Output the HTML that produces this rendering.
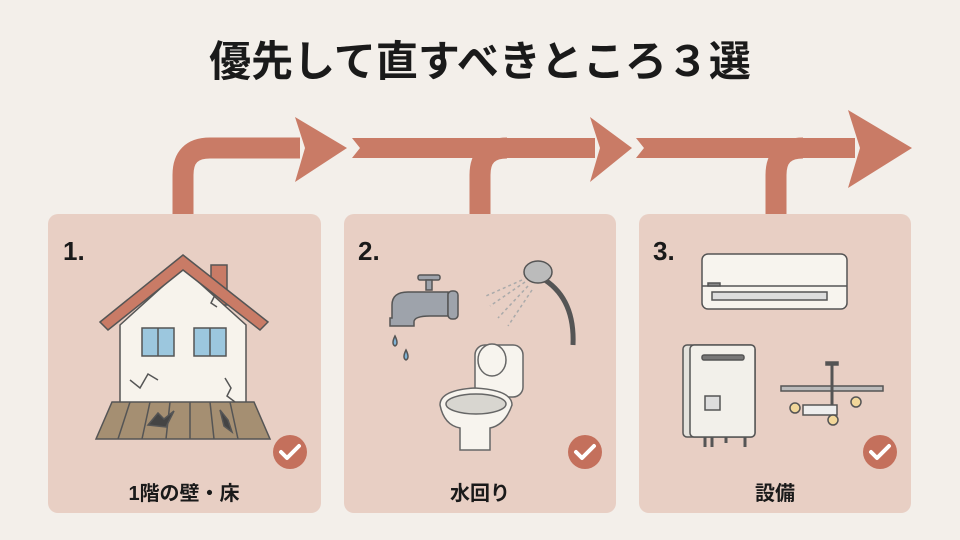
<!DOCTYPE html>
<html><head><meta charset="utf-8"><style>
html,body{margin:0;padding:0;background:#f3efea;}
svg{display:block}
text{font-family:"Liberation Sans","Noto Sans CJK JP",sans-serif;font-weight:bold;fill:#1a1a1a}
</style></head><body>
<svg width="960" height="540" viewBox="0 0 960 540" xmlns="http://www.w3.org/2000/svg">
<rect width="960" height="540" fill="#f3efea"/>
<text x="480" y="76" font-size="42" text-anchor="middle">優先して直すべきところ３選</text>
<g fill="none" stroke="#c97b66" stroke-width="21">
<path d="M183 216 V175 Q183 148 210 148 H300"/>
<path d="M480 216 V175 Q480 148 507 148"/>
<path d="M776 216 V175 Q776 148 803 148"/>
</g>
<g fill="#c97b66">
<polygon points="295,117 347,148 295,182 305,148"/>
<polygon points="352,138 595,138 595,158 352,158 360,148"/>
<polygon points="590,117 632,148 590,182 600,148"/>
<polygon points="636,138 855,138 855,158 636,158 644,148"/>
<polygon points="848,110 912,148 848,188 860,148"/>
</g>
<g fill="#e8cfc4">
<rect x="48" y="214" width="273" height="299" rx="10"/>
<rect x="344" y="214" width="272" height="299" rx="10"/>
<rect x="639" y="214" width="272" height="299" rx="10"/>
</g>
<text x="63" y="260" font-size="26">1.</text>
<text x="358" y="260" font-size="26">2.</text>
<text x="653" y="260" font-size="26">3.</text>
<text x="184" y="500" font-size="20" text-anchor="middle">1階の壁・床</text>
<text x="480" y="500" font-size="20" text-anchor="middle">水回り</text>
<text x="775" y="500" font-size="20" text-anchor="middle">設備</text>
<g>
<circle cx="290" cy="452" r="17" fill="#c4705c"/><circle cx="585" cy="452" r="17" fill="#c4705c"/><circle cx="880" cy="452" r="17" fill="#c4705c"/>
<g fill="none" stroke="#fff" stroke-width="4" stroke-linecap="round" stroke-linejoin="round">
<path d="M281 452 l6 6 l12 -12"/><path d="M576 452 l6 6 l12 -12"/><path d="M871 452 l6 6 l12 -12"/>
</g></g>
<g stroke="#555" stroke-width="1.5">
<rect x="211" y="265" width="16" height="40" fill="#c97b66"/>
<polygon points="120,325 183,268 246,325 246,403 120,403" fill="#f7f3ec"/>
<polygon points="100,322 183,255 268,322 260,330 183,270 108,330" fill="#c97b66"/>
<rect x="142" y="328" width="32" height="28" fill="#9cc7de"/><line x1="158" y1="328" x2="158" y2="356"/>
<rect x="194" y="328" width="32" height="28" fill="#9cc7de"/><line x1="210" y1="328" x2="210" y2="356"/>
<polygon points="112,402 254,402 270,439 96,439" fill="#a58f72"/>
<g fill="none"><path d="M130 402 L118 439 M150 402 L142 439 M170 402 L166 439 M190 402 L190 439 M210 402 L214 439 M230 402 L238 439"/>
<path d="M130 380 l10 8 l8 -14 l10 6 M225 378 l6 10 l-4 8 l8 6 M215 295 l-4 8 l6 4"/></g>
<path d="M148 425 l10 -12 l6 6 l10 -8 l-8 16z M220 410 l8 10 l4 12 l-8 -6z" fill="#444"/>
</g>
<g stroke="#555" stroke-width="1.5" fill="#9ea3ab">
<rect x="418" y="275" width="22" height="5" rx="2"/><rect x="426" y="280" width="6" height="10"/>
<path d="M392 318 V305 Q392 292 408 292 H448 V316 H430 Q414 316 414 322 V326 H390 V318z"/>
<rect x="448" y="291" width="10" height="28" rx="4"/>
<path d="M395 336 q-4 8 0 10 q4 -2 0 -10z M406 350 q-4 8 0 10 q4 -2 0 -10z" fill="#7fb3d6"/>
</g>
<g stroke="#555" stroke-width="1.5">
<path d="M545 280 Q575 300 573 345" fill="none" stroke-width="5"/>
<ellipse cx="538" cy="272" rx="14" ry="11" fill="#bbb"/>
<g stroke="#aaa" stroke-dasharray="3 3"><path d="M525 282 L490 306 M528 286 L498 318 M532 290 L508 326 M522 280 L486 296"/></g>
</g>
<g stroke="#666" stroke-width="1.5" fill="#f7f4ee">
<rect x="475" y="345" width="48" height="52" rx="10"/>
<ellipse cx="492" cy="360" rx="14" ry="16" fill="#f7f4ee"/>
<path d="M440 405 Q440 390 475 388 Q512 390 512 405 Q505 425 490 428 V450 H460 V428 Q444 425 440 405z"/>
<ellipse cx="476" cy="404" rx="30" ry="10" fill="#d8d6d0"/>
</g>
<g stroke="#555" stroke-width="1.5">
<rect x="702" y="254" width="145" height="55" rx="6" fill="#f7f4ee"/>
<line x1="702" y1="286" x2="847" y2="286"/>
<rect x="712" y="292" width="115" height="8" fill="#ddd"/>
<rect x="708" y="283" width="12" height="3" fill="#888"/>
</g>
<g stroke="#555" stroke-width="1.5">
<rect x="683" y="345" width="72" height="92" rx="4" fill="#e4e2dc"/>
<rect x="690" y="345" width="65" height="92" rx="4" fill="#f2f0ea"/>
<rect x="702" y="355" width="42" height="5" rx="2" fill="#777"/>
<rect x="705" y="396" width="15" height="14" fill="#ddd"/>
<path d="M705 437 v10 M712 437 v10 M726 437 v6 M745 437 v10" stroke-width="3"/>
</g>
<g stroke="#555" stroke-width="1.5">
<rect x="781" y="386" width="102" height="5" fill="#bbb"/>
<line x1="832" y1="365" x2="832" y2="415" stroke-width="3"/><rect x="826" y="362" width="12" height="3" fill="#555"/>
<rect x="803" y="405" width="34" height="10" fill="#eee"/>
<circle cx="795" cy="408" r="5" fill="#f2d79a"/><circle cx="856" cy="402" r="5" fill="#f2d79a"/><circle cx="833" cy="420" r="5" fill="#f2d79a"/>
</g>
</svg>
</body></html>
